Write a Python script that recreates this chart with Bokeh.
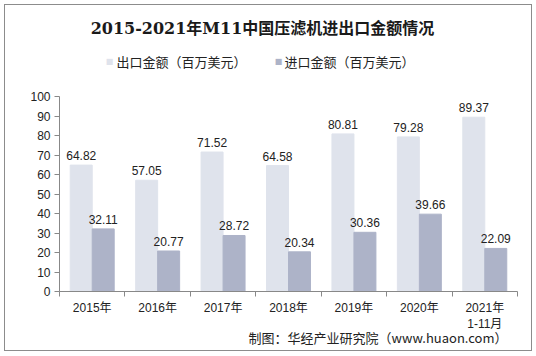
import numpy as np
from bokeh.plotting import figure
from bokeh.models import FixedTicker, Range1d, Label, Title, ColumnDataSource
from bokeh.transform import dodge
from bokeh.embed import file_html
from bokeh.resources import INLINE

years = ["2015年", "2016年", "2017年", "2018年", "2019年", "2020年", "2021年\n1-11月"]
export_vals = [64.82, 57.05, 71.52, 64.58, 80.81, 79.28, 89.37]
import_vals = [32.11, 20.77, 28.72, 20.34, 30.36, 39.66, 22.09]
y_ticks = [0, 10, 20, 30, 40, 50, 60, 70, 80, 90, 100]
series_names = ["出口金额（百万美元）", "进口金额（百万美元）"]

pos = list(np.arange(len(years)) + 0.5)
src = ColumnDataSource(dict(x=pos, exp=export_vals, imp=import_vals,
                            exp_t=[f"{v:.2f}" for v in export_vals],
                            imp_t=[f"{v:.2f}" for v in import_vals]))

FONT = "Liberation Sans, Arial, Noto Sans CJK SC"
CJK = "Noto Sans CJK SC"
C_EXP = "#dfe3ec"
C_IMP = "#adb3c8"

# plot area (y 0..100) spans canvas x 59..517, y 96..291; the frame is extended to the
# top of the canvas so that title and legend can be drawn inside it.
L, R, B = 59, 19, 65
W, H = 536, 356
FB = H - B            # canvas y of value 0
PLOT_TOP = 96         # canvas y of value 100
y_max = 100 * FB / (FB - PLOT_TOP)

p = figure(width=W, height=H, output_backend="svg", toolbar_location=None,
           x_range=Range1d(0, len(years)), y_range=Range1d(0, y_max),
           min_border_left=L, min_border_right=R, min_border_top=0, min_border_bottom=B)
p.title.visible = False
p.outline_line_color = None
p.grid.visible = False
p.background_fill_color = "white"
p.border_fill_color = "white"
p.stylesheets = [":host { position: relative; }",
                 ":host::after { content: ''; position: absolute; left: 4px; top: 4px; "
                 "width: 526px; height: 345px; border: 1.5px solid #8c8c8c; "
                 "pointer-events: none; z-index: 100; }"]

bw = 0.336
p.vbar(x=dodge("x", -bw / 2), top="exp", width=bw, source=src, color=C_EXP)
p.vbar(x=dodge("x", bw / 2), top="imp", width=bw, source=src, color=C_IMP)

p.text(x=dodge("x", -bw / 2), y="exp", text="exp_t", source=src, text_align="center",
       text_baseline="bottom", y_offset=-5, text_font_size="12px", text_color="#222222",
       text_font={"value": FONT})
p.text(x=dodge("x", bw / 2), y="imp", text="imp_t", source=src, text_align="center",
       text_baseline="bottom", y_offset=-5, text_font_size="12px", text_color="#222222",
       text_font={"value": FONT})

# axes
xa = p.xaxis[0]
xa.ticker = FixedTicker(ticks=pos, minor_ticks=list(range(len(years) + 1)))
xa.major_label_overrides = {float(x): y for x, y in zip(pos, years)}
xa.major_tick_line_color = None
xa.minor_tick_in = 0
xa.minor_tick_out = 5
xa.minor_tick_line_color = "#888888"
xa.axis_line_color = "#888888"
xa.major_label_text_font = FONT
xa.major_label_text_font_size = "12px"
xa.major_label_text_color = "#222222"
xa.major_label_standoff = 3

ya = p.yaxis[0]
ya.ticker = FixedTicker(ticks=y_ticks)
ya.bounds = (0, 100)
ya.minor_tick_line_color = None
ya.major_tick_in = 0
ya.major_tick_out = 5
ya.major_tick_line_color = "#888888"
ya.axis_line_color = "#888888"
ya.major_label_text_font = FONT
ya.major_label_text_font_size = "12px"
ya.major_label_text_color = "#222222"
ya.major_label_standoff = 4


def lab(cx, cy, text, **kw):
    """Label at canvas pixel (cx, cy) measured from top-left."""
    p.add_layout(Label(x=cx - L, y=FB - cy, x_units="screen", y_units="screen",
                       text=text, **kw))


# title
lab(262, 28, "2015-2021年M11中国压滤机进出口金额情况", text_align="center",
    text_baseline="middle", text_font="DejaVu Serif, " + CJK, text_font_style="bold",
    text_font_size="16px", text_color="#1a1a1a")

# legend
for sx, tx, name, col in [(109, 116, series_names[0], C_EXP), (278, 284, series_names[1], C_IMP)]:
    lab(sx, 61, "■", text_align="center", text_baseline="middle",
        text_font="DejaVu Sans", text_font_size="8px", text_color=col)
    lab(tx, 61, name, text_align="left", text_baseline="middle", text_font=CJK,
        text_font_size="13px", text_color="#222222")

# source note
p.add_layout(Title(text="制图：华经产业研究院（www.huaon.com）", align="right", offset=10,
                   text_font=CJK, text_font_style="normal", text_font_size="13px",
                   text_color="#222222", standoff=-17), "below")

open("out.html", "w").write(file_html(p, INLINE))
